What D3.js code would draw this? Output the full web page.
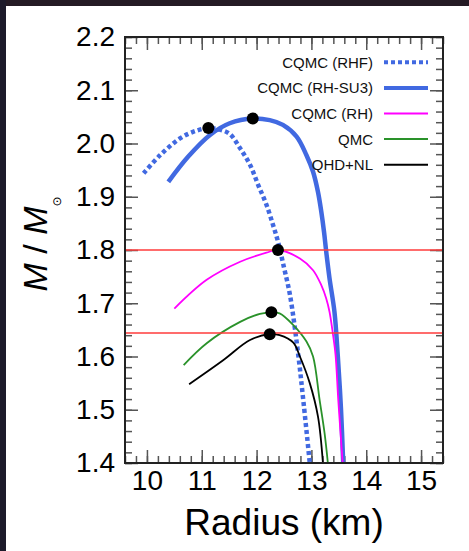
<!DOCTYPE html>
<html>
<head>
<meta charset="utf-8">
<script src="https://cdnjs.cloudflare.com/ajax/libs/d3/7.8.5/d3.min.js"></script>
<style>
    html, body { margin: 0; padding: 0; background: #fff; }
    svg { display: block; font-family: "Liberation Sans", Arial, sans-serif; }
</style>
</head>
<body>
<div id="chart"></div>
<script>
// mass-radius curves (R in km, M in solar masses)
var rhfR = [9.94, 10.24, 10.61, 10.90, 11.13, 11.33, 11.51, 11.70, 11.88, 12.03, 12.18, 12.30, 12.39, 12.50, 12.61, 12.76, 12.86, 12.97];
var rhfM = [1.944, 1.978, 2.010, 2.024, 2.029, 2.026, 2.018, 1.991, 1.960, 1.922, 1.885, 1.847, 1.816, 1.767, 1.715, 1.603, 1.510, 1.400];

var su3R = [10.39, 10.75, 11.15, 11.51, 11.93, 12.24, 12.48, 12.73, 12.91, 13.03, 13.12, 13.18, 13.23, 13.27, 13.33, 13.42, 13.48, 13.54, 13.58];
var su3M = [1.928, 1.975, 2.016, 2.038, 2.047, 2.044, 2.035, 2.013, 1.978, 1.947, 1.909, 1.872, 1.834, 1.797, 1.747, 1.684, 1.603, 1.500, 1.400];

var rhR = [10.50, 11.09, 11.70, 12.18, 12.39, 12.79, 13.03, 13.18, 13.27, 13.33, 13.39, 13.44, 13.49, 13.57];
var rhM = [1.690, 1.744, 1.778, 1.795, 1.800, 1.784, 1.762, 1.734, 1.709, 1.684, 1.644, 1.603, 1.518, 1.400];

var qmcR = [10.67, 11.09, 11.70, 12.06, 12.27, 12.42, 12.67, 12.91, 13.03, 13.15, 13.24, 13.30];
var qmcM = [1.584, 1.625, 1.665, 1.680, 1.683, 1.681, 1.659, 1.628, 1.600, 1.518, 1.456, 1.400];

var qhdR = [10.77, 11.39, 11.88, 12.24, 12.42, 12.67, 12.79, 12.97, 13.12, 13.21];
var qhdM = [1.548, 1.593, 1.631, 1.642, 1.640, 1.626, 1.600, 1.550, 1.487, 1.400];

// maximum mass points
var maxR = [11.12, 11.93, 12.39, 12.27, 12.24];
var maxM = [2.029, 2.047, 1.800, 1.683, 1.642];

// horizontal reference masses
var refM = [1.80, 1.644];

var legendNames = ["CQMC (RHF)", "CQMC (RH-SU3)", "CQMC (RH)", "QMC", "QHD+NL"];
var xTicks = [10, 11, 12, 13, 14, 15];
var yTicks = [1.4, 1.5, 1.6, 1.7, 1.8, 1.9, 2.0, 2.1, 2.2];

var width = 469, height = 551;
// plot box (don't name these top/left, window.top is read-only)
var pL = 125, pR = 443, pT = 37, pB = 463;

var svg = d3.select("#chart").append("svg")
    .attr("width", width)
    .attr("height", height);

// dark border strips of the screenshot
svg.append("rect").attr("x", 0).attr("y", 0).attr("width", width).attr("height", 6).attr("fill", "#241a24");
svg.append("rect").attr("x", 0).attr("y", 0).attr("width", 6).attr("height", height).attr("fill", "#1d1a2a");

var x = d3.scaleLinear().domain([9.6, 15.4]).range([pL, pR]);
var y = d3.scaleLinear().domain([1.4, 2.2]).range([pB, pT]);

svg.append("clipPath").attr("id", "plotclip")
    .append("rect")
    .attr("x", pL).attr("y", pT)
    .attr("width", pR - pL).attr("height", pB - pT);

var minorX = d3.range(96, 155, 2).map(function(d) { return d / 10; });
var minorY = d3.range(70, 111, 1).map(function(d) { return d / 50; });

function styleAxis(g) {
    g.select(".domain").remove();
    g.selectAll(".tick line").attr("stroke", "#555").attr("stroke-width", 1.5);
    g.selectAll("text").attr("fill", "#000").attr("font-size", 28)
        .attr("font-family", "'Liberation Sans', Arial, sans-serif");
}

// minor ticks, all four sides
svg.append("g").attr("transform", "translate(0," + pB + ")")
    .call(d3.axisBottom(x).tickValues(minorX).tickSize(-7).tickFormat("")).call(styleAxis);
svg.append("g").attr("transform", "translate(0," + pT + ")")
    .call(d3.axisTop(x).tickValues(minorX).tickSize(-7).tickFormat("")).call(styleAxis);
svg.append("g").attr("transform", "translate(" + pL + ",0)")
    .call(d3.axisLeft(y).tickValues(minorY).tickSize(-7).tickFormat("")).call(styleAxis);
svg.append("g").attr("transform", "translate(" + pR + ",0)")
    .call(d3.axisRight(y).tickValues(minorY).tickSize(-7).tickFormat("")).call(styleAxis);

// major ticks
svg.append("g").attr("transform", "translate(0," + pB + ")")
    .call(d3.axisBottom(x).tickValues(xTicks).tickSize(-13).tickPadding(7).tickFormat(d3.format("d")))
    .call(styleAxis);
svg.append("g").attr("transform", "translate(0," + pT + ")")
    .call(d3.axisTop(x).tickValues(xTicks).tickSize(-13).tickFormat("")).call(styleAxis);
svg.append("g").attr("transform", "translate(" + pL + ",0)")
    .call(d3.axisLeft(y).tickValues(yTicks).tickSize(-13).tickPadding(10).tickFormat(d3.format(".1f")))
    .call(styleAxis);
svg.append("g").attr("transform", "translate(" + pR + ",0)")
    .call(d3.axisRight(y).tickValues(yTicks).tickSize(-13).tickFormat("")).call(styleAxis);

var line = d3.line()
    .x(function(d) { return x(d[0]); })
    .y(function(d) { return y(d[1]); })
    .curve(d3.curveCatmullRom.alpha(0.5));

var curves = [
    { name: legendNames[0], r: rhfR, m: rhfM, color: "#4169e1", w: 4.5, dash: "4,3" },
    { name: legendNames[1], r: su3R, m: su3M, color: "#4169e1", w: 4.5, dash: null },
    { name: legendNames[2], r: rhR, m: rhM, color: "#ff00ff", w: 1.8, dash: null },
    { name: legendNames[3], r: qmcR, m: qmcM, color: "#2a922a", w: 1.8, dash: null },
    { name: legendNames[4], r: qhdR, m: qhdM, color: "#000000", w: 1.8, dash: null }
];

var plot = svg.append("g").attr("clip-path", "url(#plotclip)");

curves.forEach(function(c) {
    var pts = d3.zip(c.r, c.m);
    plot.append("path")
        .attr("d", line(pts))
        .attr("fill", "none")
        .attr("stroke", c.color)
        .attr("stroke-width", c.w)
        .attr("stroke-dasharray", c.dash);
});

plot.selectAll(".ref")
    .data(refM)
    .enter().append("line")
    .attr("class", "ref")
    .attr("x1", pL).attr("x2", pR)
    .attr("y1", function(d) { return y(d); })
    .attr("y2", function(d) { return y(d); })
    .attr("stroke", "#ff3b3b")
    .attr("stroke-width", 1.6);

plot.selectAll(".maxpt")
    .data(d3.zip(maxR, maxM))
    .enter().append("circle")
    .attr("class", "maxpt")
    .attr("cx", function(d) { return x(d[0]); })
    .attr("cy", function(d) { return y(d[1]); })
    .attr("r", 6)
    .attr("fill", "#000");

// legend
var legend = svg.append("g");
curves.forEach(function(c, i) {
    var ly = 62.3 + i * 25.6;
    legend.append("text")
        .attr("x", 373).attr("y", ly)
        .attr("dy", "0.36em")
        .attr("text-anchor", "end")
        .attr("font-size", 15)
        .attr("fill", "#111")
        .text(c.name);
    legend.append("line")
        .attr("x1", 384).attr("x2", 428)
        .attr("y1", ly).attr("y2", ly)
        .attr("stroke", c.color)
        .attr("stroke-width", c.w < 3 ? 2 : 4)
        .attr("stroke-dasharray", c.dash);
});

// frame
svg.append("rect")
    .attr("x", pL).attr("y", pT)
    .attr("width", pR - pL).attr("height", pB - pT)
    .attr("fill", "none")
    .attr("stroke", "#222")
    .attr("stroke-width", 2);

// axis titles
svg.append("text")
    .attr("x", (pL + pR) / 2).attr("y", 535)
    .attr("text-anchor", "middle")
    .attr("font-size", 37)
    .text("Radius (km)");

var ylab = svg.append("text")
    .attr("transform", "translate(47,244) rotate(-90)")
    .attr("text-anchor", "middle")
    .attr("font-size", 34);
ylab.append("tspan").attr("font-style", "italic").text("M");
ylab.append("tspan").text(" / ");
ylab.append("tspan").attr("font-style", "italic").text("M");
ylab.append("tspan").attr("font-size", 12).attr("dy", 14).attr("font-family", "DejaVu Sans").text("\u2299");
</script>
</body>
</html>
